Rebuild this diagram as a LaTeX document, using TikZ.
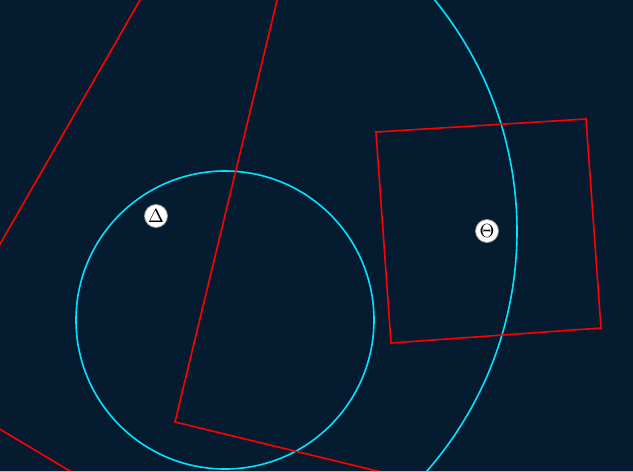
\documentclass[tikz,border=0pt]{standalone}
\usepackage{graphicx}
\usepackage{xcolor}
\definecolor{bgnavy}{RGB}{5,28,48}
\definecolor{rimred}{RGB}{255,0,0}
\definecolor{ringcyan}{RGB}{0,228,255}
\definecolor{edgetan}{RGB}{214,186,122}
\usetikzlibrary{positioning}

\begin{document}
\begin{tikzpicture}[x=1pt, y=-1pt,
    redline/.style={draw=rimred, line width=1.6pt},
    cyanline/.style={draw=ringcyan, line width=1.6pt},
    badge/.style={circle, fill=white, draw=black!40, line width=0.8pt,
                  inner sep=0pt, minimum size=23pt}]
  \fill[bgnavy] (0,0) rectangle (633,472);
  \useasboundingbox (0,0) rectangle (633,472);
  \clip (0,0) rectangle (633,472);
  % circles
  \draw[cyanline] (152,231) circle (365);
  \draw[cyanline] (225,320) circle (149);
  % rectangles (partly out of view)
  \draw[redline] (151.5,-20) -- (-79,382) -- (105,492);
  \draw[redline] (282,-20) -- (175,422) -- (478,495.5);
  \draw[redline] (376,132) -- (586,119) -- (601,328) -- (391,343) -- cycle;
  % labels
  \node[badge] (delta) at (156,216) {\scalebox{1.9}{$\Delta$}};
  \node[badge] (theta) at (487,231) {\scalebox{1.9}{$\Theta$}};
  \draw[edgetan, line width=1pt] (0,471.5) -- (633,471.5);
\end{tikzpicture}
\end{document}
